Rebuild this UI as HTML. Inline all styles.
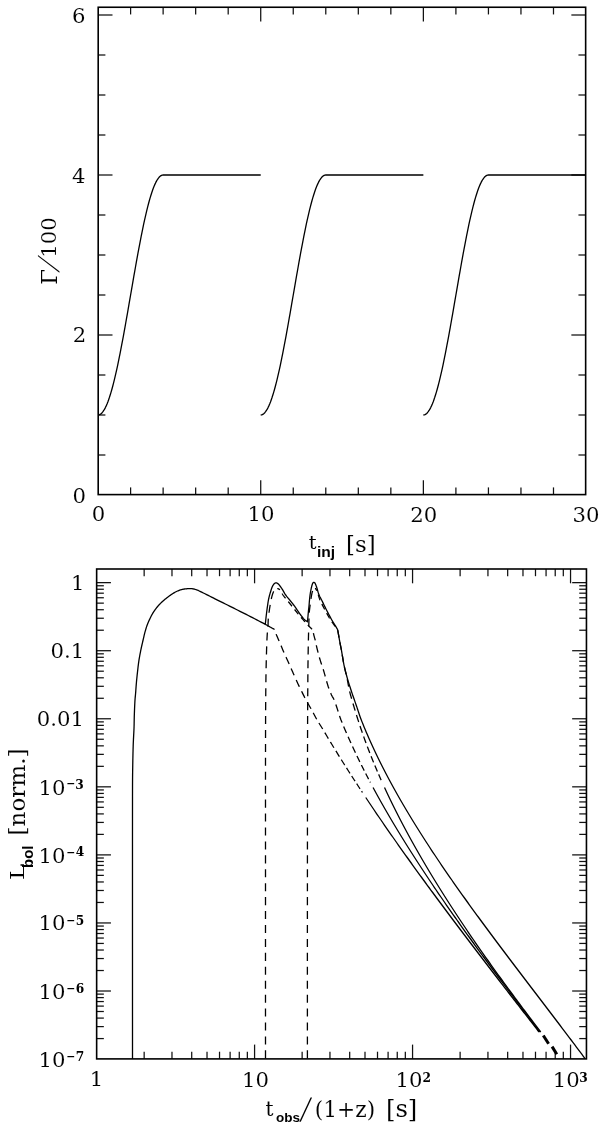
<!DOCTYPE html>
<html><head><meta charset="utf-8"><title>plot</title>
<style>
html,body{margin:0;padding:0;background:#fff;}
svg{display:block;will-change:transform;}
svg{font-family:'DejaVu Serif', 'Liberation Serif', serif;} text{fill:#000;} .er{stroke:#fff;stroke-width:0.08px;}
</style></head>
<body>
<svg width="600" height="1125" viewBox="0 0 600 1125">
<rect width="600" height="1125" fill="#fff"/>
<line x1="130.60" y1="494.60" x2="130.60" y2="487.40" stroke="#111" stroke-width="1.25"/>
<line x1="130.60" y1="7.25" x2="130.60" y2="14.45" stroke="#111" stroke-width="1.25"/>
<line x1="163.13" y1="494.60" x2="163.13" y2="487.40" stroke="#111" stroke-width="1.25"/>
<line x1="163.13" y1="7.25" x2="163.13" y2="14.45" stroke="#111" stroke-width="1.25"/>
<line x1="195.66" y1="494.60" x2="195.66" y2="487.40" stroke="#111" stroke-width="1.25"/>
<line x1="195.66" y1="7.25" x2="195.66" y2="14.45" stroke="#111" stroke-width="1.25"/>
<line x1="228.19" y1="494.60" x2="228.19" y2="487.40" stroke="#111" stroke-width="1.25"/>
<line x1="228.19" y1="7.25" x2="228.19" y2="14.45" stroke="#111" stroke-width="1.25"/>
<line x1="260.72" y1="494.60" x2="260.72" y2="480.30" stroke="#111" stroke-width="1.25"/>
<line x1="260.72" y1="7.25" x2="260.72" y2="21.55" stroke="#111" stroke-width="1.25"/>
<line x1="293.25" y1="494.60" x2="293.25" y2="487.40" stroke="#111" stroke-width="1.25"/>
<line x1="293.25" y1="7.25" x2="293.25" y2="14.45" stroke="#111" stroke-width="1.25"/>
<line x1="325.78" y1="494.60" x2="325.78" y2="487.40" stroke="#111" stroke-width="1.25"/>
<line x1="325.78" y1="7.25" x2="325.78" y2="14.45" stroke="#111" stroke-width="1.25"/>
<line x1="358.31" y1="494.60" x2="358.31" y2="487.40" stroke="#111" stroke-width="1.25"/>
<line x1="358.31" y1="7.25" x2="358.31" y2="14.45" stroke="#111" stroke-width="1.25"/>
<line x1="390.84" y1="494.60" x2="390.84" y2="487.40" stroke="#111" stroke-width="1.25"/>
<line x1="390.84" y1="7.25" x2="390.84" y2="14.45" stroke="#111" stroke-width="1.25"/>
<line x1="423.37" y1="494.60" x2="423.37" y2="480.30" stroke="#111" stroke-width="1.25"/>
<line x1="423.37" y1="7.25" x2="423.37" y2="21.55" stroke="#111" stroke-width="1.25"/>
<line x1="455.90" y1="494.60" x2="455.90" y2="487.40" stroke="#111" stroke-width="1.25"/>
<line x1="455.90" y1="7.25" x2="455.90" y2="14.45" stroke="#111" stroke-width="1.25"/>
<line x1="488.43" y1="494.60" x2="488.43" y2="487.40" stroke="#111" stroke-width="1.25"/>
<line x1="488.43" y1="7.25" x2="488.43" y2="14.45" stroke="#111" stroke-width="1.25"/>
<line x1="520.96" y1="494.60" x2="520.96" y2="487.40" stroke="#111" stroke-width="1.25"/>
<line x1="520.96" y1="7.25" x2="520.96" y2="14.45" stroke="#111" stroke-width="1.25"/>
<line x1="553.49" y1="494.60" x2="553.49" y2="487.40" stroke="#111" stroke-width="1.25"/>
<line x1="553.49" y1="7.25" x2="553.49" y2="14.45" stroke="#111" stroke-width="1.25"/>
<line x1="98.20" y1="455.00" x2="105.40" y2="455.00" stroke="#111" stroke-width="1.25"/>
<line x1="585.65" y1="455.00" x2="578.45" y2="455.00" stroke="#111" stroke-width="1.25"/>
<line x1="98.20" y1="415.00" x2="105.40" y2="415.00" stroke="#111" stroke-width="1.25"/>
<line x1="585.65" y1="415.00" x2="578.45" y2="415.00" stroke="#111" stroke-width="1.25"/>
<line x1="98.20" y1="375.00" x2="105.40" y2="375.00" stroke="#111" stroke-width="1.25"/>
<line x1="585.65" y1="375.00" x2="578.45" y2="375.00" stroke="#111" stroke-width="1.25"/>
<line x1="98.20" y1="335.00" x2="112.50" y2="335.00" stroke="#111" stroke-width="1.25"/>
<line x1="585.65" y1="335.00" x2="571.35" y2="335.00" stroke="#111" stroke-width="1.25"/>
<line x1="98.20" y1="295.00" x2="105.40" y2="295.00" stroke="#111" stroke-width="1.25"/>
<line x1="585.65" y1="295.00" x2="578.45" y2="295.00" stroke="#111" stroke-width="1.25"/>
<line x1="98.20" y1="255.00" x2="105.40" y2="255.00" stroke="#111" stroke-width="1.25"/>
<line x1="585.65" y1="255.00" x2="578.45" y2="255.00" stroke="#111" stroke-width="1.25"/>
<line x1="98.20" y1="215.00" x2="105.40" y2="215.00" stroke="#111" stroke-width="1.25"/>
<line x1="585.65" y1="215.00" x2="578.45" y2="215.00" stroke="#111" stroke-width="1.25"/>
<line x1="98.20" y1="175.00" x2="112.50" y2="175.00" stroke="#111" stroke-width="1.25"/>
<line x1="585.65" y1="175.00" x2="571.35" y2="175.00" stroke="#111" stroke-width="1.25"/>
<line x1="98.20" y1="135.00" x2="105.40" y2="135.00" stroke="#111" stroke-width="1.25"/>
<line x1="585.65" y1="135.00" x2="578.45" y2="135.00" stroke="#111" stroke-width="1.25"/>
<line x1="98.20" y1="95.00" x2="105.40" y2="95.00" stroke="#111" stroke-width="1.25"/>
<line x1="585.65" y1="95.00" x2="578.45" y2="95.00" stroke="#111" stroke-width="1.25"/>
<line x1="98.20" y1="55.00" x2="105.40" y2="55.00" stroke="#111" stroke-width="1.25"/>
<line x1="585.65" y1="55.00" x2="578.45" y2="55.00" stroke="#111" stroke-width="1.25"/>
<line x1="98.20" y1="15.00" x2="112.50" y2="15.00" stroke="#111" stroke-width="1.25"/>
<line x1="585.65" y1="15.00" x2="571.35" y2="15.00" stroke="#111" stroke-width="1.25"/>
<rect x="98.20" y="7.25" width="487.45" height="487.35" fill="none" stroke="#000" stroke-width="1.6"/>
<line x1="144.16" y1="1058.90" x2="144.16" y2="1051.70" stroke="#111" stroke-width="1.25"/>
<line x1="144.16" y1="569.00" x2="144.16" y2="576.20" stroke="#111" stroke-width="1.25"/>
<line x1="171.98" y1="1058.90" x2="171.98" y2="1051.70" stroke="#111" stroke-width="1.25"/>
<line x1="171.98" y1="569.00" x2="171.98" y2="576.20" stroke="#111" stroke-width="1.25"/>
<line x1="191.71" y1="1058.90" x2="191.71" y2="1051.70" stroke="#111" stroke-width="1.25"/>
<line x1="191.71" y1="569.00" x2="191.71" y2="576.20" stroke="#111" stroke-width="1.25"/>
<line x1="207.02" y1="1058.90" x2="207.02" y2="1051.70" stroke="#111" stroke-width="1.25"/>
<line x1="207.02" y1="569.00" x2="207.02" y2="576.20" stroke="#111" stroke-width="1.25"/>
<line x1="219.53" y1="1058.90" x2="219.53" y2="1051.70" stroke="#111" stroke-width="1.25"/>
<line x1="219.53" y1="569.00" x2="219.53" y2="576.20" stroke="#111" stroke-width="1.25"/>
<line x1="230.11" y1="1058.90" x2="230.11" y2="1051.70" stroke="#111" stroke-width="1.25"/>
<line x1="230.11" y1="569.00" x2="230.11" y2="576.20" stroke="#111" stroke-width="1.25"/>
<line x1="239.27" y1="1058.90" x2="239.27" y2="1051.70" stroke="#111" stroke-width="1.25"/>
<line x1="239.27" y1="569.00" x2="239.27" y2="576.20" stroke="#111" stroke-width="1.25"/>
<line x1="247.35" y1="1058.90" x2="247.35" y2="1051.70" stroke="#111" stroke-width="1.25"/>
<line x1="247.35" y1="569.00" x2="247.35" y2="576.20" stroke="#111" stroke-width="1.25"/>
<line x1="254.58" y1="1058.90" x2="254.58" y2="1044.60" stroke="#111" stroke-width="1.25"/>
<line x1="254.58" y1="569.00" x2="254.58" y2="583.30" stroke="#111" stroke-width="1.25"/>
<line x1="302.14" y1="1058.90" x2="302.14" y2="1051.70" stroke="#111" stroke-width="1.25"/>
<line x1="302.14" y1="569.00" x2="302.14" y2="576.20" stroke="#111" stroke-width="1.25"/>
<line x1="329.96" y1="1058.90" x2="329.96" y2="1051.70" stroke="#111" stroke-width="1.25"/>
<line x1="329.96" y1="569.00" x2="329.96" y2="576.20" stroke="#111" stroke-width="1.25"/>
<line x1="349.69" y1="1058.90" x2="349.69" y2="1051.70" stroke="#111" stroke-width="1.25"/>
<line x1="349.69" y1="569.00" x2="349.69" y2="576.20" stroke="#111" stroke-width="1.25"/>
<line x1="365.00" y1="1058.90" x2="365.00" y2="1051.70" stroke="#111" stroke-width="1.25"/>
<line x1="365.00" y1="569.00" x2="365.00" y2="576.20" stroke="#111" stroke-width="1.25"/>
<line x1="377.51" y1="1058.90" x2="377.51" y2="1051.70" stroke="#111" stroke-width="1.25"/>
<line x1="377.51" y1="569.00" x2="377.51" y2="576.20" stroke="#111" stroke-width="1.25"/>
<line x1="388.09" y1="1058.90" x2="388.09" y2="1051.70" stroke="#111" stroke-width="1.25"/>
<line x1="388.09" y1="569.00" x2="388.09" y2="576.20" stroke="#111" stroke-width="1.25"/>
<line x1="397.25" y1="1058.90" x2="397.25" y2="1051.70" stroke="#111" stroke-width="1.25"/>
<line x1="397.25" y1="569.00" x2="397.25" y2="576.20" stroke="#111" stroke-width="1.25"/>
<line x1="405.33" y1="1058.90" x2="405.33" y2="1051.70" stroke="#111" stroke-width="1.25"/>
<line x1="405.33" y1="569.00" x2="405.33" y2="576.20" stroke="#111" stroke-width="1.25"/>
<line x1="412.56" y1="1058.90" x2="412.56" y2="1044.60" stroke="#111" stroke-width="1.25"/>
<line x1="412.56" y1="569.00" x2="412.56" y2="583.30" stroke="#111" stroke-width="1.25"/>
<line x1="460.12" y1="1058.90" x2="460.12" y2="1051.70" stroke="#111" stroke-width="1.25"/>
<line x1="460.12" y1="569.00" x2="460.12" y2="576.20" stroke="#111" stroke-width="1.25"/>
<line x1="487.94" y1="1058.90" x2="487.94" y2="1051.70" stroke="#111" stroke-width="1.25"/>
<line x1="487.94" y1="569.00" x2="487.94" y2="576.20" stroke="#111" stroke-width="1.25"/>
<line x1="507.67" y1="1058.90" x2="507.67" y2="1051.70" stroke="#111" stroke-width="1.25"/>
<line x1="507.67" y1="569.00" x2="507.67" y2="576.20" stroke="#111" stroke-width="1.25"/>
<line x1="522.98" y1="1058.90" x2="522.98" y2="1051.70" stroke="#111" stroke-width="1.25"/>
<line x1="522.98" y1="569.00" x2="522.98" y2="576.20" stroke="#111" stroke-width="1.25"/>
<line x1="535.49" y1="1058.90" x2="535.49" y2="1051.70" stroke="#111" stroke-width="1.25"/>
<line x1="535.49" y1="569.00" x2="535.49" y2="576.20" stroke="#111" stroke-width="1.25"/>
<line x1="546.07" y1="1058.90" x2="546.07" y2="1051.70" stroke="#111" stroke-width="1.25"/>
<line x1="546.07" y1="569.00" x2="546.07" y2="576.20" stroke="#111" stroke-width="1.25"/>
<line x1="555.23" y1="1058.90" x2="555.23" y2="1051.70" stroke="#111" stroke-width="1.25"/>
<line x1="555.23" y1="569.00" x2="555.23" y2="576.20" stroke="#111" stroke-width="1.25"/>
<line x1="563.31" y1="1058.90" x2="563.31" y2="1051.70" stroke="#111" stroke-width="1.25"/>
<line x1="563.31" y1="569.00" x2="563.31" y2="576.20" stroke="#111" stroke-width="1.25"/>
<line x1="570.54" y1="1058.90" x2="570.54" y2="1044.60" stroke="#111" stroke-width="1.25"/>
<line x1="570.54" y1="569.00" x2="570.54" y2="583.30" stroke="#111" stroke-width="1.25"/>
<line x1="96.65" y1="1038.58" x2="103.85" y2="1038.58" stroke="#111" stroke-width="1.25"/>
<line x1="586.45" y1="1038.58" x2="579.25" y2="1038.58" stroke="#111" stroke-width="1.25"/>
<line x1="96.65" y1="1026.60" x2="103.85" y2="1026.60" stroke="#111" stroke-width="1.25"/>
<line x1="586.45" y1="1026.60" x2="579.25" y2="1026.60" stroke="#111" stroke-width="1.25"/>
<line x1="96.65" y1="1018.09" x2="103.85" y2="1018.09" stroke="#111" stroke-width="1.25"/>
<line x1="586.45" y1="1018.09" x2="579.25" y2="1018.09" stroke="#111" stroke-width="1.25"/>
<line x1="96.65" y1="1011.50" x2="103.85" y2="1011.50" stroke="#111" stroke-width="1.25"/>
<line x1="586.45" y1="1011.50" x2="579.25" y2="1011.50" stroke="#111" stroke-width="1.25"/>
<line x1="96.65" y1="1006.11" x2="103.85" y2="1006.11" stroke="#111" stroke-width="1.25"/>
<line x1="586.45" y1="1006.11" x2="579.25" y2="1006.11" stroke="#111" stroke-width="1.25"/>
<line x1="96.65" y1="1001.55" x2="103.85" y2="1001.55" stroke="#111" stroke-width="1.25"/>
<line x1="586.45" y1="1001.55" x2="579.25" y2="1001.55" stroke="#111" stroke-width="1.25"/>
<line x1="96.65" y1="997.61" x2="103.85" y2="997.61" stroke="#111" stroke-width="1.25"/>
<line x1="586.45" y1="997.61" x2="579.25" y2="997.61" stroke="#111" stroke-width="1.25"/>
<line x1="96.65" y1="994.12" x2="103.85" y2="994.12" stroke="#111" stroke-width="1.25"/>
<line x1="586.45" y1="994.12" x2="579.25" y2="994.12" stroke="#111" stroke-width="1.25"/>
<line x1="96.65" y1="991.01" x2="110.95" y2="991.01" stroke="#111" stroke-width="1.25"/>
<line x1="586.45" y1="991.01" x2="572.15" y2="991.01" stroke="#111" stroke-width="1.25"/>
<line x1="96.65" y1="970.52" x2="103.85" y2="970.52" stroke="#111" stroke-width="1.25"/>
<line x1="586.45" y1="970.52" x2="579.25" y2="970.52" stroke="#111" stroke-width="1.25"/>
<line x1="96.65" y1="958.54" x2="103.85" y2="958.54" stroke="#111" stroke-width="1.25"/>
<line x1="586.45" y1="958.54" x2="579.25" y2="958.54" stroke="#111" stroke-width="1.25"/>
<line x1="96.65" y1="950.03" x2="103.85" y2="950.03" stroke="#111" stroke-width="1.25"/>
<line x1="586.45" y1="950.03" x2="579.25" y2="950.03" stroke="#111" stroke-width="1.25"/>
<line x1="96.65" y1="943.44" x2="103.85" y2="943.44" stroke="#111" stroke-width="1.25"/>
<line x1="586.45" y1="943.44" x2="579.25" y2="943.44" stroke="#111" stroke-width="1.25"/>
<line x1="96.65" y1="938.05" x2="103.85" y2="938.05" stroke="#111" stroke-width="1.25"/>
<line x1="586.45" y1="938.05" x2="579.25" y2="938.05" stroke="#111" stroke-width="1.25"/>
<line x1="96.65" y1="933.49" x2="103.85" y2="933.49" stroke="#111" stroke-width="1.25"/>
<line x1="586.45" y1="933.49" x2="579.25" y2="933.49" stroke="#111" stroke-width="1.25"/>
<line x1="96.65" y1="929.55" x2="103.85" y2="929.55" stroke="#111" stroke-width="1.25"/>
<line x1="586.45" y1="929.55" x2="579.25" y2="929.55" stroke="#111" stroke-width="1.25"/>
<line x1="96.65" y1="926.06" x2="103.85" y2="926.06" stroke="#111" stroke-width="1.25"/>
<line x1="586.45" y1="926.06" x2="579.25" y2="926.06" stroke="#111" stroke-width="1.25"/>
<line x1="96.65" y1="922.95" x2="110.95" y2="922.95" stroke="#111" stroke-width="1.25"/>
<line x1="586.45" y1="922.95" x2="572.15" y2="922.95" stroke="#111" stroke-width="1.25"/>
<line x1="96.65" y1="902.46" x2="103.85" y2="902.46" stroke="#111" stroke-width="1.25"/>
<line x1="586.45" y1="902.46" x2="579.25" y2="902.46" stroke="#111" stroke-width="1.25"/>
<line x1="96.65" y1="890.48" x2="103.85" y2="890.48" stroke="#111" stroke-width="1.25"/>
<line x1="586.45" y1="890.48" x2="579.25" y2="890.48" stroke="#111" stroke-width="1.25"/>
<line x1="96.65" y1="881.97" x2="103.85" y2="881.97" stroke="#111" stroke-width="1.25"/>
<line x1="586.45" y1="881.97" x2="579.25" y2="881.97" stroke="#111" stroke-width="1.25"/>
<line x1="96.65" y1="875.38" x2="103.85" y2="875.38" stroke="#111" stroke-width="1.25"/>
<line x1="586.45" y1="875.38" x2="579.25" y2="875.38" stroke="#111" stroke-width="1.25"/>
<line x1="96.65" y1="869.99" x2="103.85" y2="869.99" stroke="#111" stroke-width="1.25"/>
<line x1="586.45" y1="869.99" x2="579.25" y2="869.99" stroke="#111" stroke-width="1.25"/>
<line x1="96.65" y1="865.43" x2="103.85" y2="865.43" stroke="#111" stroke-width="1.25"/>
<line x1="586.45" y1="865.43" x2="579.25" y2="865.43" stroke="#111" stroke-width="1.25"/>
<line x1="96.65" y1="861.49" x2="103.85" y2="861.49" stroke="#111" stroke-width="1.25"/>
<line x1="586.45" y1="861.49" x2="579.25" y2="861.49" stroke="#111" stroke-width="1.25"/>
<line x1="96.65" y1="858.00" x2="103.85" y2="858.00" stroke="#111" stroke-width="1.25"/>
<line x1="586.45" y1="858.00" x2="579.25" y2="858.00" stroke="#111" stroke-width="1.25"/>
<line x1="96.65" y1="854.89" x2="110.95" y2="854.89" stroke="#111" stroke-width="1.25"/>
<line x1="586.45" y1="854.89" x2="572.15" y2="854.89" stroke="#111" stroke-width="1.25"/>
<line x1="96.65" y1="834.40" x2="103.85" y2="834.40" stroke="#111" stroke-width="1.25"/>
<line x1="586.45" y1="834.40" x2="579.25" y2="834.40" stroke="#111" stroke-width="1.25"/>
<line x1="96.65" y1="822.42" x2="103.85" y2="822.42" stroke="#111" stroke-width="1.25"/>
<line x1="586.45" y1="822.42" x2="579.25" y2="822.42" stroke="#111" stroke-width="1.25"/>
<line x1="96.65" y1="813.91" x2="103.85" y2="813.91" stroke="#111" stroke-width="1.25"/>
<line x1="586.45" y1="813.91" x2="579.25" y2="813.91" stroke="#111" stroke-width="1.25"/>
<line x1="96.65" y1="807.32" x2="103.85" y2="807.32" stroke="#111" stroke-width="1.25"/>
<line x1="586.45" y1="807.32" x2="579.25" y2="807.32" stroke="#111" stroke-width="1.25"/>
<line x1="96.65" y1="801.93" x2="103.85" y2="801.93" stroke="#111" stroke-width="1.25"/>
<line x1="586.45" y1="801.93" x2="579.25" y2="801.93" stroke="#111" stroke-width="1.25"/>
<line x1="96.65" y1="797.37" x2="103.85" y2="797.37" stroke="#111" stroke-width="1.25"/>
<line x1="586.45" y1="797.37" x2="579.25" y2="797.37" stroke="#111" stroke-width="1.25"/>
<line x1="96.65" y1="793.43" x2="103.85" y2="793.43" stroke="#111" stroke-width="1.25"/>
<line x1="586.45" y1="793.43" x2="579.25" y2="793.43" stroke="#111" stroke-width="1.25"/>
<line x1="96.65" y1="789.94" x2="103.85" y2="789.94" stroke="#111" stroke-width="1.25"/>
<line x1="586.45" y1="789.94" x2="579.25" y2="789.94" stroke="#111" stroke-width="1.25"/>
<line x1="96.65" y1="786.83" x2="110.95" y2="786.83" stroke="#111" stroke-width="1.25"/>
<line x1="586.45" y1="786.83" x2="572.15" y2="786.83" stroke="#111" stroke-width="1.25"/>
<line x1="96.65" y1="766.34" x2="103.85" y2="766.34" stroke="#111" stroke-width="1.25"/>
<line x1="586.45" y1="766.34" x2="579.25" y2="766.34" stroke="#111" stroke-width="1.25"/>
<line x1="96.65" y1="754.36" x2="103.85" y2="754.36" stroke="#111" stroke-width="1.25"/>
<line x1="586.45" y1="754.36" x2="579.25" y2="754.36" stroke="#111" stroke-width="1.25"/>
<line x1="96.65" y1="745.85" x2="103.85" y2="745.85" stroke="#111" stroke-width="1.25"/>
<line x1="586.45" y1="745.85" x2="579.25" y2="745.85" stroke="#111" stroke-width="1.25"/>
<line x1="96.65" y1="739.26" x2="103.85" y2="739.26" stroke="#111" stroke-width="1.25"/>
<line x1="586.45" y1="739.26" x2="579.25" y2="739.26" stroke="#111" stroke-width="1.25"/>
<line x1="96.65" y1="733.87" x2="103.85" y2="733.87" stroke="#111" stroke-width="1.25"/>
<line x1="586.45" y1="733.87" x2="579.25" y2="733.87" stroke="#111" stroke-width="1.25"/>
<line x1="96.65" y1="729.31" x2="103.85" y2="729.31" stroke="#111" stroke-width="1.25"/>
<line x1="586.45" y1="729.31" x2="579.25" y2="729.31" stroke="#111" stroke-width="1.25"/>
<line x1="96.65" y1="725.37" x2="103.85" y2="725.37" stroke="#111" stroke-width="1.25"/>
<line x1="586.45" y1="725.37" x2="579.25" y2="725.37" stroke="#111" stroke-width="1.25"/>
<line x1="96.65" y1="721.88" x2="103.85" y2="721.88" stroke="#111" stroke-width="1.25"/>
<line x1="586.45" y1="721.88" x2="579.25" y2="721.88" stroke="#111" stroke-width="1.25"/>
<line x1="96.65" y1="718.77" x2="110.95" y2="718.77" stroke="#111" stroke-width="1.25"/>
<line x1="586.45" y1="718.77" x2="572.15" y2="718.77" stroke="#111" stroke-width="1.25"/>
<line x1="96.65" y1="698.28" x2="103.85" y2="698.28" stroke="#111" stroke-width="1.25"/>
<line x1="586.45" y1="698.28" x2="579.25" y2="698.28" stroke="#111" stroke-width="1.25"/>
<line x1="96.65" y1="686.30" x2="103.85" y2="686.30" stroke="#111" stroke-width="1.25"/>
<line x1="586.45" y1="686.30" x2="579.25" y2="686.30" stroke="#111" stroke-width="1.25"/>
<line x1="96.65" y1="677.79" x2="103.85" y2="677.79" stroke="#111" stroke-width="1.25"/>
<line x1="586.45" y1="677.79" x2="579.25" y2="677.79" stroke="#111" stroke-width="1.25"/>
<line x1="96.65" y1="671.20" x2="103.85" y2="671.20" stroke="#111" stroke-width="1.25"/>
<line x1="586.45" y1="671.20" x2="579.25" y2="671.20" stroke="#111" stroke-width="1.25"/>
<line x1="96.65" y1="665.81" x2="103.85" y2="665.81" stroke="#111" stroke-width="1.25"/>
<line x1="586.45" y1="665.81" x2="579.25" y2="665.81" stroke="#111" stroke-width="1.25"/>
<line x1="96.65" y1="661.25" x2="103.85" y2="661.25" stroke="#111" stroke-width="1.25"/>
<line x1="586.45" y1="661.25" x2="579.25" y2="661.25" stroke="#111" stroke-width="1.25"/>
<line x1="96.65" y1="657.31" x2="103.85" y2="657.31" stroke="#111" stroke-width="1.25"/>
<line x1="586.45" y1="657.31" x2="579.25" y2="657.31" stroke="#111" stroke-width="1.25"/>
<line x1="96.65" y1="653.82" x2="103.85" y2="653.82" stroke="#111" stroke-width="1.25"/>
<line x1="586.45" y1="653.82" x2="579.25" y2="653.82" stroke="#111" stroke-width="1.25"/>
<line x1="96.65" y1="650.71" x2="110.95" y2="650.71" stroke="#111" stroke-width="1.25"/>
<line x1="586.45" y1="650.71" x2="572.15" y2="650.71" stroke="#111" stroke-width="1.25"/>
<line x1="96.65" y1="630.22" x2="103.85" y2="630.22" stroke="#111" stroke-width="1.25"/>
<line x1="586.45" y1="630.22" x2="579.25" y2="630.22" stroke="#111" stroke-width="1.25"/>
<line x1="96.65" y1="618.24" x2="103.85" y2="618.24" stroke="#111" stroke-width="1.25"/>
<line x1="586.45" y1="618.24" x2="579.25" y2="618.24" stroke="#111" stroke-width="1.25"/>
<line x1="96.65" y1="609.73" x2="103.85" y2="609.73" stroke="#111" stroke-width="1.25"/>
<line x1="586.45" y1="609.73" x2="579.25" y2="609.73" stroke="#111" stroke-width="1.25"/>
<line x1="96.65" y1="603.14" x2="103.85" y2="603.14" stroke="#111" stroke-width="1.25"/>
<line x1="586.45" y1="603.14" x2="579.25" y2="603.14" stroke="#111" stroke-width="1.25"/>
<line x1="96.65" y1="597.75" x2="103.85" y2="597.75" stroke="#111" stroke-width="1.25"/>
<line x1="586.45" y1="597.75" x2="579.25" y2="597.75" stroke="#111" stroke-width="1.25"/>
<line x1="96.65" y1="593.19" x2="103.85" y2="593.19" stroke="#111" stroke-width="1.25"/>
<line x1="586.45" y1="593.19" x2="579.25" y2="593.19" stroke="#111" stroke-width="1.25"/>
<line x1="96.65" y1="589.25" x2="103.85" y2="589.25" stroke="#111" stroke-width="1.25"/>
<line x1="586.45" y1="589.25" x2="579.25" y2="589.25" stroke="#111" stroke-width="1.25"/>
<line x1="96.65" y1="585.76" x2="103.85" y2="585.76" stroke="#111" stroke-width="1.25"/>
<line x1="586.45" y1="585.76" x2="579.25" y2="585.76" stroke="#111" stroke-width="1.25"/>
<line x1="96.65" y1="582.65" x2="110.95" y2="582.65" stroke="#111" stroke-width="1.25"/>
<line x1="586.45" y1="582.65" x2="572.15" y2="582.65" stroke="#111" stroke-width="1.25"/>
<rect x="96.65" y="569.00" width="489.80" height="489.90" fill="none" stroke="#000" stroke-width="1.6"/>
<path d="M98.07,415.00 L98.88,414.91 L99.70,414.63 L100.51,414.17 L101.32,413.52 L102.14,412.69 L102.95,411.68 L103.76,410.49 L104.58,409.13 L105.39,407.58 L106.20,405.87 L107.02,403.98 L107.83,401.92 L108.64,399.70 L109.46,397.32 L110.27,394.78 L111.08,392.08 L111.90,389.24 L112.71,386.25 L113.52,383.12 L114.33,379.85 L115.15,376.46 L115.96,372.93 L116.77,369.29 L117.59,365.53 L118.40,361.67 L119.21,357.70 L120.03,353.63 L120.84,349.48 L121.65,345.24 L122.47,340.92 L123.28,336.53 L124.09,332.08 L124.91,327.57 L125.72,323.01 L126.53,318.41 L127.35,313.77 L128.16,309.10 L128.97,304.42 L129.79,299.71 L130.60,295.00 L131.41,290.29 L132.23,285.58 L133.04,280.90 L133.85,276.23 L134.67,271.59 L135.48,266.99 L136.29,262.43 L137.11,257.92 L137.92,253.47 L138.73,249.08 L139.55,244.76 L140.36,240.52 L141.17,236.37 L141.99,232.30 L142.80,228.33 L143.61,224.47 L144.43,220.71 L145.24,217.07 L146.05,213.54 L146.87,210.15 L147.68,206.88 L148.49,203.75 L149.30,200.76 L150.12,197.92 L150.93,195.22 L151.74,192.68 L152.56,190.30 L153.37,188.08 L154.18,186.02 L155.00,184.13 L155.81,182.42 L156.62,180.87 L157.44,179.51 L158.25,178.32 L159.06,177.31 L159.88,176.48 L160.69,175.83 L161.50,175.37 L162.32,175.09 L163.13,175.00 L163.94,175.00 L164.76,175.00 L165.57,175.00 L166.38,175.00 L167.20,175.00 L168.01,175.00 L168.82,175.00 L169.64,175.00 L170.45,175.00 L171.26,175.00 L172.08,175.00 L172.89,175.00 L173.70,175.00 L174.52,175.00 L175.33,175.00 L176.14,175.00 L176.96,175.00 L177.77,175.00 L178.58,175.00 L179.39,175.00 L180.21,175.00 L181.02,175.00 L181.83,175.00 L182.65,175.00 L183.46,175.00 L184.27,175.00 L185.09,175.00 L185.90,175.00 L186.71,175.00 L187.53,175.00 L188.34,175.00 L189.15,175.00 L189.97,175.00 L190.78,175.00 L191.59,175.00 L192.41,175.00 L193.22,175.00 L194.03,175.00 L194.85,175.00 L195.66,175.00 L196.47,175.00 L197.29,175.00 L198.10,175.00 L198.91,175.00 L199.73,175.00 L200.54,175.00 L201.35,175.00 L202.17,175.00 L202.98,175.00 L203.79,175.00 L204.61,175.00 L205.42,175.00 L206.23,175.00 L207.05,175.00 L207.86,175.00 L208.67,175.00 L209.49,175.00 L210.30,175.00 L211.11,175.00 L211.93,175.00 L212.74,175.00 L213.55,175.00 L214.36,175.00 L215.18,175.00 L215.99,175.00 L216.80,175.00 L217.62,175.00 L218.43,175.00 L219.24,175.00 L220.06,175.00 L220.87,175.00 L221.68,175.00 L222.50,175.00 L223.31,175.00 L224.12,175.00 L224.94,175.00 L225.75,175.00 L226.56,175.00 L227.38,175.00 L228.19,175.00 L229.00,175.00 L229.82,175.00 L230.63,175.00 L231.44,175.00 L232.26,175.00 L233.07,175.00 L233.88,175.00 L234.70,175.00 L235.51,175.00 L236.32,175.00 L237.14,175.00 L237.95,175.00 L238.76,175.00 L239.58,175.00 L240.39,175.00 L241.20,175.00 L242.02,175.00 L242.83,175.00 L243.64,175.00 L244.45,175.00 L245.27,175.00 L246.08,175.00 L246.89,175.00 L247.71,175.00 L248.52,175.00 L249.33,175.00 L250.15,175.00 L250.96,175.00 L251.77,175.00 L252.59,175.00 L253.40,175.00 L254.21,175.00 L255.03,175.00 L255.84,175.00 L256.65,175.00 L257.47,175.00 L258.28,175.00 L259.09,175.00 L259.91,175.00 L260.72,175.00" fill="none" stroke="#000" stroke-width="1.3" stroke-linejoin="round"/>
<path d="M260.72,415.00 L261.53,414.91 L262.35,414.63 L263.16,414.17 L263.97,413.52 L264.79,412.69 L265.60,411.68 L266.41,410.49 L267.23,409.13 L268.04,407.58 L268.85,405.87 L269.67,403.98 L270.48,401.92 L271.29,399.70 L272.11,397.32 L272.92,394.78 L273.73,392.08 L274.55,389.24 L275.36,386.25 L276.17,383.12 L276.99,379.85 L277.80,376.46 L278.61,372.93 L279.42,369.29 L280.24,365.53 L281.05,361.67 L281.86,357.70 L282.68,353.63 L283.49,349.48 L284.30,345.24 L285.12,340.92 L285.93,336.53 L286.74,332.08 L287.56,327.57 L288.37,323.01 L289.18,318.41 L290.00,313.77 L290.81,309.10 L291.62,304.42 L292.44,299.71 L293.25,295.00 L294.06,290.29 L294.88,285.58 L295.69,280.90 L296.50,276.23 L297.32,271.59 L298.13,266.99 L298.94,262.43 L299.76,257.92 L300.57,253.47 L301.38,249.08 L302.20,244.76 L303.01,240.52 L303.82,236.37 L304.64,232.30 L305.45,228.33 L306.26,224.47 L307.08,220.71 L307.89,217.07 L308.70,213.54 L309.51,210.15 L310.33,206.88 L311.14,203.75 L311.95,200.76 L312.77,197.92 L313.58,195.22 L314.39,192.68 L315.21,190.30 L316.02,188.08 L316.83,186.02 L317.65,184.13 L318.46,182.42 L319.27,180.87 L320.09,179.51 L320.90,178.32 L321.71,177.31 L322.53,176.48 L323.34,175.83 L324.15,175.37 L324.97,175.09 L325.78,175.00 L326.59,175.00 L327.41,175.00 L328.22,175.00 L329.03,175.00 L329.85,175.00 L330.66,175.00 L331.47,175.00 L332.29,175.00 L333.10,175.00 L333.91,175.00 L334.73,175.00 L335.54,175.00 L336.35,175.00 L337.17,175.00 L337.98,175.00 L338.79,175.00 L339.61,175.00 L340.42,175.00 L341.23,175.00 L342.05,175.00 L342.86,175.00 L343.67,175.00 L344.48,175.00 L345.30,175.00 L346.11,175.00 L346.92,175.00 L347.74,175.00 L348.55,175.00 L349.36,175.00 L350.18,175.00 L350.99,175.00 L351.80,175.00 L352.62,175.00 L353.43,175.00 L354.24,175.00 L355.06,175.00 L355.87,175.00 L356.68,175.00 L357.50,175.00 L358.31,175.00 L359.12,175.00 L359.94,175.00 L360.75,175.00 L361.56,175.00 L362.38,175.00 L363.19,175.00 L364.00,175.00 L364.82,175.00 L365.63,175.00 L366.44,175.00 L367.26,175.00 L368.07,175.00 L368.88,175.00 L369.70,175.00 L370.51,175.00 L371.32,175.00 L372.14,175.00 L372.95,175.00 L373.76,175.00 L374.57,175.00 L375.39,175.00 L376.20,175.00 L377.01,175.00 L377.83,175.00 L378.64,175.00 L379.45,175.00 L380.27,175.00 L381.08,175.00 L381.89,175.00 L382.71,175.00 L383.52,175.00 L384.33,175.00 L385.15,175.00 L385.96,175.00 L386.77,175.00 L387.59,175.00 L388.40,175.00 L389.21,175.00 L390.03,175.00 L390.84,175.00 L391.65,175.00 L392.47,175.00 L393.28,175.00 L394.09,175.00 L394.91,175.00 L395.72,175.00 L396.53,175.00 L397.35,175.00 L398.16,175.00 L398.97,175.00 L399.79,175.00 L400.60,175.00 L401.41,175.00 L402.23,175.00 L403.04,175.00 L403.85,175.00 L404.67,175.00 L405.48,175.00 L406.29,175.00 L407.11,175.00 L407.92,175.00 L408.73,175.00 L409.54,175.00 L410.36,175.00 L411.17,175.00 L411.98,175.00 L412.80,175.00 L413.61,175.00 L414.42,175.00 L415.24,175.00 L416.05,175.00 L416.86,175.00 L417.68,175.00 L418.49,175.00 L419.30,175.00 L420.12,175.00 L420.93,175.00 L421.74,175.00 L422.56,175.00 L423.37,175.00" fill="none" stroke="#000" stroke-width="1.3" stroke-linejoin="round"/>
<path d="M423.37,415.00 L424.18,414.91 L425.00,414.63 L425.81,414.17 L426.62,413.52 L427.44,412.69 L428.25,411.68 L429.06,410.49 L429.88,409.13 L430.69,407.58 L431.50,405.87 L432.32,403.98 L433.13,401.92 L433.94,399.70 L434.76,397.32 L435.57,394.78 L436.38,392.08 L437.20,389.24 L438.01,386.25 L438.82,383.12 L439.63,379.85 L440.45,376.46 L441.26,372.93 L442.07,369.29 L442.89,365.53 L443.70,361.67 L444.51,357.70 L445.33,353.63 L446.14,349.48 L446.95,345.24 L447.77,340.92 L448.58,336.53 L449.39,332.08 L450.21,327.57 L451.02,323.01 L451.83,318.41 L452.65,313.77 L453.46,309.10 L454.27,304.42 L455.09,299.71 L455.90,295.00 L456.71,290.29 L457.53,285.58 L458.34,280.90 L459.15,276.23 L459.97,271.59 L460.78,266.99 L461.59,262.43 L462.41,257.92 L463.22,253.47 L464.03,249.08 L464.85,244.76 L465.66,240.52 L466.47,236.37 L467.29,232.30 L468.10,228.33 L468.91,224.47 L469.73,220.71 L470.54,217.07 L471.35,213.54 L472.17,210.15 L472.98,206.88 L473.79,203.75 L474.60,200.76 L475.42,197.92 L476.23,195.22 L477.04,192.68 L477.86,190.30 L478.67,188.08 L479.48,186.02 L480.30,184.13 L481.11,182.42 L481.92,180.87 L482.74,179.51 L483.55,178.32 L484.36,177.31 L485.18,176.48 L485.99,175.83 L486.80,175.37 L487.62,175.09 L488.43,175.00 L489.24,175.00 L490.06,175.00 L490.87,175.00 L491.68,175.00 L492.50,175.00 L493.31,175.00 L494.12,175.00 L494.94,175.00 L495.75,175.00 L496.56,175.00 L497.38,175.00 L498.19,175.00 L499.00,175.00 L499.82,175.00 L500.63,175.00 L501.44,175.00 L502.26,175.00 L503.07,175.00 L503.88,175.00 L504.69,175.00 L505.51,175.00 L506.32,175.00 L507.13,175.00 L507.95,175.00 L508.76,175.00 L509.57,175.00 L510.39,175.00 L511.20,175.00 L512.01,175.00 L512.83,175.00 L513.64,175.00 L514.45,175.00 L515.27,175.00 L516.08,175.00 L516.89,175.00 L517.71,175.00 L518.52,175.00 L519.33,175.00 L520.15,175.00 L520.96,175.00 L521.77,175.00 L522.59,175.00 L523.40,175.00 L524.21,175.00 L525.03,175.00 L525.84,175.00 L526.65,175.00 L527.47,175.00 L528.28,175.00 L529.09,175.00 L529.91,175.00 L530.72,175.00 L531.53,175.00 L532.35,175.00 L533.16,175.00 L533.97,175.00 L534.79,175.00 L535.60,175.00 L536.41,175.00 L537.23,175.00 L538.04,175.00 L538.85,175.00 L539.66,175.00 L540.48,175.00 L541.29,175.00 L542.10,175.00 L542.92,175.00 L543.73,175.00 L544.54,175.00 L545.36,175.00 L546.17,175.00 L546.98,175.00 L547.80,175.00 L548.61,175.00 L549.42,175.00 L550.24,175.00 L551.05,175.00 L551.86,175.00 L552.68,175.00 L553.49,175.00 L554.30,175.00 L555.12,175.00 L555.93,175.00 L556.74,175.00 L557.56,175.00 L558.37,175.00 L559.18,175.00 L560.00,175.00 L560.81,175.00 L561.62,175.00 L562.44,175.00 L563.25,175.00 L564.06,175.00 L564.88,175.00 L565.69,175.00 L566.50,175.00 L567.32,175.00 L568.13,175.00 L568.94,175.00 L569.75,175.00 L570.57,175.00 L571.38,175.00 L572.19,175.00 L573.01,175.00 L573.82,175.00 L574.63,175.00 L575.45,175.00 L576.26,175.00 L577.07,175.00 L577.89,175.00 L578.70,175.00 L579.51,175.00 L580.33,175.00 L581.14,175.00 L581.95,175.00 L582.77,175.00 L583.58,175.00 L584.39,175.00 L585.21,175.00 L586.02,175.00" fill="none" stroke="#000" stroke-width="1.3" stroke-linejoin="round"/>
<path d="M132.50,1058.90 L132.50,1024.54 L132.49,987.32 L132.49,948.96 L132.48,911.16 L132.48,875.66 L132.48,844.15 L132.49,818.36 L132.50,800.00 L132.50,796.36 L132.51,793.22 L132.51,790.49 L132.52,788.08 L132.52,785.91 L132.53,783.90 L132.54,781.96 L132.55,780.00 L132.56,778.74 L132.57,777.60 L132.58,776.53 L132.59,775.51 L132.60,774.50 L132.62,773.47 L132.63,772.38 L132.65,771.20 L132.67,769.58 L132.70,767.87 L132.73,766.09 L132.76,764.26 L132.79,762.41 L132.82,760.55 L132.86,758.71 L132.90,756.90 L132.94,755.12 L132.98,753.35 L133.03,751.57 L133.07,749.80 L133.12,748.02 L133.18,746.25 L133.23,744.47 L133.30,742.70 L133.38,740.93 L133.46,739.15 L133.56,737.38 L133.65,735.60 L133.75,733.83 L133.84,732.05 L133.93,730.28 L134.00,728.50 L134.06,726.71 L134.11,724.93 L134.14,723.14 L134.18,721.35 L134.21,719.56 L134.25,717.77 L134.29,715.99 L134.35,714.20 L134.42,712.39 L134.49,710.52 L134.56,708.64 L134.64,706.77 L134.72,704.94 L134.81,703.18 L134.90,701.52 L135.00,700.00 L135.07,699.05 L135.14,698.19 L135.21,697.37 L135.29,696.59 L135.37,695.82 L135.44,695.02 L135.52,694.19 L135.60,693.30 L135.70,692.09 L135.79,690.82 L135.88,689.50 L135.98,688.15 L136.08,686.78 L136.18,685.41 L136.29,684.04 L136.40,682.70 L136.52,681.36 L136.65,680.03 L136.78,678.69 L136.92,677.35 L137.06,676.01 L137.20,674.68 L137.35,673.34 L137.50,672.00 L137.65,670.66 L137.80,669.32 L137.95,667.98 L138.10,666.64 L138.26,665.31 L138.43,663.97 L138.61,662.63 L138.80,661.30 L139.01,659.97 L139.22,658.64 L139.45,657.32 L139.68,655.99 L139.93,654.67 L140.18,653.35 L140.44,652.02 L140.70,650.70 L140.98,649.35 L141.27,647.99 L141.57,646.63 L141.88,645.26 L142.19,643.91 L142.50,642.58 L142.80,641.27 L143.10,640.00 L143.35,638.90 L143.60,637.83 L143.84,636.77 L144.09,635.72 L144.33,634.70 L144.58,633.68 L144.83,632.68 L145.10,631.70 L145.35,630.82 L145.59,629.96 L145.84,629.10 L146.10,628.26 L146.36,627.43 L146.63,626.61 L146.91,625.80 L147.20,625.00 L147.49,624.25 L147.79,623.50 L148.09,622.76 L148.41,622.04 L148.73,621.31 L149.05,620.60 L149.38,619.90 L149.70,619.20 L150.00,618.55 L150.30,617.91 L150.60,617.29 L150.90,616.66 L151.21,616.04 L151.52,615.43 L151.85,614.81 L152.20,614.20 L152.57,613.57 L152.96,612.93 L153.35,612.30 L153.76,611.68 L154.18,611.05 L154.61,610.43 L155.05,609.81 L155.50,609.20 L155.99,608.56 L156.49,607.92 L157.00,607.28 L157.52,606.64 L158.06,606.02 L158.60,605.40 L159.15,604.79 L159.70,604.20 L160.24,603.64 L160.79,603.09 L161.35,602.55 L161.92,602.02 L162.49,601.50 L163.06,600.99 L163.63,600.49 L164.20,600.00 L164.74,599.55 L165.27,599.10 L165.81,598.67 L166.35,598.24 L166.89,597.82 L167.43,597.41 L167.97,597.00 L168.50,596.60 L169.00,596.22 L169.50,595.85 L170.00,595.48 L170.50,595.12 L170.99,594.76 L171.49,594.42 L171.99,594.08 L172.50,593.75 L172.99,593.44 L173.48,593.14 L173.98,592.85 L174.47,592.56 L174.97,592.28 L175.48,592.01 L175.99,591.75 L176.50,591.50 L177.03,591.25 L177.56,591.02 L178.10,590.78 L178.65,590.56 L179.19,590.35 L179.73,590.15 L180.27,589.97 L180.80,589.80 L181.27,589.66 L181.74,589.54 L182.20,589.43 L182.66,589.33 L183.11,589.24 L183.57,589.15 L184.03,589.07 L184.50,589.00 L184.98,588.93 L185.46,588.87 L185.95,588.82 L186.43,588.78 L186.92,588.74 L187.39,588.70 L187.86,588.68 L188.30,588.65 L188.66,588.63 L189.01,588.61 L189.36,588.60 L189.69,588.59 L190.02,588.58 L190.35,588.58 L190.68,588.59 L191.00,588.60 L191.29,588.62 L191.58,588.64 L191.85,588.67 L192.13,588.70 L192.41,588.74 L192.69,588.78 L192.99,588.84 L193.30,588.90 L193.72,588.99 L194.16,589.10 L194.61,589.22 L195.08,589.36 L195.55,589.50 L196.03,589.66 L196.52,589.82 L197.00,590.00 L197.57,590.22 L198.14,590.47 L198.73,590.74 L199.32,591.02 L199.92,591.30 L200.51,591.59 L201.11,591.87 L201.70,592.15 L203.35,592.98 L204.99,593.79 L206.62,594.61 L208.26,595.43 L209.90,596.25 L211.57,597.08 L213.27,597.93 L215.00,598.80 L217.00,599.80 L219.04,600.82 L221.13,601.86 L223.24,602.91 L225.36,603.98 L227.48,605.04 L229.60,606.10 L231.70,607.15 L233.78,608.19 L235.85,609.23 L237.92,610.27 L239.99,611.30 L242.07,612.34 L244.14,613.39 L246.22,614.44 L248.30,615.50 L250.42,616.58 L252.54,617.68 L254.66,618.78 L256.79,619.88 L258.92,620.99 L261.05,622.09 L263.17,623.20 L265.30,624.30 L265.36,623.77 L265.41,623.25 L265.46,622.73 L265.52,622.21 L265.57,621.68 L265.63,621.14 L265.69,620.58 L265.75,620.00 L265.83,619.25 L265.92,618.48 L266.01,617.68 L266.10,616.86 L266.20,616.03 L266.30,615.19 L266.40,614.34 L266.50,613.50 L266.61,612.59 L266.73,611.66 L266.85,610.73 L266.97,609.78 L267.10,608.83 L267.23,607.89 L267.36,606.94 L267.50,606.00 L267.64,605.06 L267.78,604.11 L267.92,603.16 L268.07,602.21 L268.22,601.27 L268.39,600.33 L268.56,599.41 L268.75,598.50 L268.94,597.66 L269.14,596.83 L269.35,596.00 L269.57,595.19 L269.79,594.38 L270.02,593.58 L270.26,592.79 L270.50,592.00 L270.73,591.25 L270.96,590.49 L271.19,589.73 L271.43,588.99 L271.68,588.26 L271.93,587.56 L272.21,586.90 L272.50,586.30 L272.74,585.86 L272.98,585.42 L273.23,585.00 L273.49,584.61 L273.76,584.24 L274.03,583.91 L274.31,583.63 L274.60,583.40 L274.81,583.26 L275.03,583.15 L275.26,583.05 L275.49,582.98 L275.72,582.92 L275.95,582.89 L276.18,582.88 L276.40,582.90 L276.64,582.95 L276.88,583.04 L277.13,583.15 L277.37,583.29 L277.60,583.45 L277.84,583.63 L278.07,583.81 L278.30,584.00 L278.56,584.24 L278.82,584.51 L279.08,584.80 L279.33,585.11 L279.57,585.42 L279.81,585.75 L280.06,586.08 L280.30,586.40 L280.55,586.74 L280.80,587.07 L281.04,587.41 L281.28,587.76 L281.53,588.12 L281.77,588.49 L282.03,588.88 L282.30,589.30 L282.68,589.92 L283.08,590.60 L283.49,591.32 L283.91,592.06 L284.34,592.82 L284.78,593.57 L285.24,594.30 L285.70,595.00 L286.17,595.65 L286.65,596.29 L287.15,596.92 L287.66,597.54 L288.17,598.15 L288.68,598.76 L289.20,599.38 L289.70,600.00 L290.20,600.62 L290.71,601.25 L291.22,601.87 L291.73,602.49 L292.23,603.12 L292.73,603.74 L293.22,604.37 L293.70,605.00 L294.16,605.62 L294.60,606.24 L295.04,606.87 L295.48,607.49 L295.91,608.12 L296.33,608.75 L296.77,609.37 L297.20,610.00 L297.64,610.63 L298.07,611.26 L298.50,611.90 L298.93,612.53 L299.37,613.16 L299.81,613.79 L300.25,614.40 L300.70,615.00 L301.14,615.57 L301.58,616.14 L302.02,616.71 L302.47,617.27 L302.93,617.82 L303.38,618.34 L303.84,618.84 L304.30,619.30 L304.69,619.66 L305.09,620.00 L305.49,620.32 L305.89,620.62 L306.29,620.91 L306.70,621.20 L307.10,621.49 L307.50,621.80 L307.56,621.07 L307.62,620.35 L307.69,619.62 L307.75,618.89 L307.81,618.16 L307.87,617.44 L307.94,616.72 L308.00,616.00 L308.06,615.30 L308.12,614.60 L308.18,613.90 L308.25,613.21 L308.31,612.52 L308.37,611.83 L308.43,611.16 L308.50,610.50 L308.56,609.92 L308.62,609.36 L308.69,608.81 L308.75,608.26 L308.82,607.72 L308.88,607.16 L308.94,606.59 L309.00,606.00 L309.07,605.29 L309.13,604.56 L309.18,603.81 L309.24,603.05 L309.30,602.29 L309.36,601.52 L309.43,600.76 L309.50,600.00 L309.58,599.24 L309.66,598.46 L309.74,597.68 L309.83,596.90 L309.92,596.13 L310.01,595.39 L310.11,594.67 L310.20,594.00 L310.27,593.52 L310.34,593.06 L310.41,592.62 L310.49,592.20 L310.56,591.78 L310.64,591.36 L310.72,590.93 L310.80,590.50 L310.89,590.04 L310.98,589.57 L311.08,589.10 L311.18,588.63 L311.28,588.16 L311.38,587.70 L311.49,587.24 L311.60,586.80 L311.70,586.40 L311.80,586.00 L311.90,585.59 L312.01,585.20 L312.12,584.82 L312.23,584.45 L312.36,584.11 L312.50,583.80 L312.61,583.58 L312.72,583.35 L312.84,583.14 L312.96,582.93 L313.08,582.75 L313.21,582.59 L313.35,582.47 L313.50,582.40 L313.64,582.37 L313.78,582.37 L313.94,582.40 L314.10,582.44 L314.26,582.51 L314.41,582.59 L314.56,582.69 L314.70,582.80 L314.88,582.99 L315.05,583.23 L315.20,583.51 L315.35,583.83 L315.49,584.16 L315.62,584.50 L315.76,584.85 L315.90,585.20 L316.07,585.63 L316.24,586.08 L316.41,586.55 L316.57,587.04 L316.73,587.53 L316.89,588.03 L317.05,588.52 L317.20,589.00 L317.34,589.47 L317.48,589.95 L317.61,590.43 L317.74,590.91 L317.87,591.38 L318.00,591.86 L318.15,592.33 L318.30,592.80 L318.47,593.27 L318.64,593.74 L318.82,594.20 L319.01,594.67 L319.20,595.13 L319.39,595.59 L319.59,596.05 L319.80,596.50 L320.00,596.93 L320.21,597.34 L320.42,597.75 L320.63,598.15 L320.85,598.56 L321.08,599.00 L321.33,599.48 L321.60,600.00 L322.10,601.00 L322.65,602.14 L323.25,603.38 L323.88,604.68 L324.53,606.03 L325.19,607.38 L325.85,608.72 L326.50,610.00 L327.16,611.29 L327.86,612.63 L328.57,614.00 L329.28,615.35 L329.97,616.66 L330.63,617.89 L331.25,619.01 L331.80,620.00 L332.09,620.50 L332.35,620.95 L332.60,621.37 L332.84,621.76 L333.08,622.14 L333.31,622.51 L333.55,622.90 L333.80,623.30 L334.07,623.74 L334.35,624.18 L334.63,624.62 L334.92,625.07 L335.20,625.51 L335.48,625.95 L335.74,626.38 L336.00,626.80 L336.22,627.16 L336.42,627.52 L336.62,627.87 L336.82,628.22 L337.01,628.56 L337.21,628.91 L337.40,629.25 L337.60,629.60 L337.69,630.06 L337.77,630.50 L337.86,630.94 L337.94,631.39 L338.03,631.84 L338.12,632.31 L338.21,632.79 L338.30,633.30 L338.43,634.01 L338.56,634.78 L338.70,635.57 L338.84,636.40 L338.98,637.22 L339.13,638.04 L339.27,638.84 L339.40,639.60 L339.51,640.24 L339.63,640.86 L339.74,641.47 L339.85,642.07 L339.96,642.67 L340.07,643.27 L340.18,643.88 L340.30,644.50 L340.43,645.17 L340.56,645.83 L340.70,646.50 L340.84,647.17 L340.98,647.85 L341.12,648.55 L341.26,649.27 L341.40,650.00 L341.56,650.90 L341.72,651.83 L341.88,652.79 L342.04,653.76 L342.21,654.75 L342.37,655.74 L342.53,656.72 L342.70,657.70 L342.86,658.67 L343.02,659.62 L343.17,660.56 L343.32,661.50 L343.49,662.47 L343.67,663.47 L343.87,664.50 L344.10,665.60 L344.46,667.19 L344.86,668.89 L345.30,670.68 L345.77,672.52 L346.27,674.39 L346.77,676.26 L347.29,678.10 L347.80,679.90 L348.31,681.64 L348.85,683.37 L349.39,685.10 L349.95,686.82 L350.51,688.53 L351.08,690.24 L351.64,691.93 L352.20,693.60 L352.73,695.18 L353.27,696.73 L353.80,698.28 L354.34,699.81 L354.87,701.34 L355.41,702.88 L355.96,704.43 L356.50,706.00 L357.06,707.64 L357.60,709.27 L358.13,710.91 L358.67,712.55 L359.23,714.22 L359.82,715.93 L360.44,717.68 L361.12,719.50 L362.03,721.87 L363.02,724.35 L364.07,726.91 L365.16,729.52 L366.28,732.17 L367.42,734.81 L368.56,737.43 L369.69,740.00 L370.82,742.52 L371.96,745.03 L373.11,747.54 L374.27,750.04 L375.45,752.53 L376.64,755.02 L377.84,757.51 L379.06,760.00 L380.30,762.51 L381.56,765.02 L382.82,767.52 L384.11,770.02 L385.40,772.52 L386.70,775.02 L388.02,777.51 L389.35,780.00 L390.70,782.51 L392.06,785.02 L393.43,787.52 L394.82,790.02 L396.22,792.52 L397.62,795.02 L399.04,797.51 L400.47,800.00 L401.92,802.51 L403.38,805.02 L404.85,807.52 L406.33,810.02 L407.82,812.52 L409.33,815.01 L410.84,817.51 L412.35,820.00 L413.89,822.51 L415.44,825.01 L417.00,827.52 L418.57,830.02 L420.14,832.52 L421.73,835.01 L423.32,837.51 L424.92,840.00 L426.54,842.51 L428.17,845.01 L429.80,847.52 L431.45,850.02 L433.10,852.52 L434.76,855.01 L436.42,857.51 L438.09,860.00 L439.78,862.51 L441.48,865.01 L443.18,867.51 L444.89,870.01 L446.61,872.51 L448.33,875.01 L450.06,877.51 L451.80,880.00 L453.54,882.51 L455.30,885.01 L457.06,887.51 L458.83,890.01 L460.60,892.51 L462.38,895.01 L464.16,897.50 L465.95,900.00 L467.75,902.50 L469.55,905.01 L471.36,907.51 L473.18,910.01 L475.00,912.51 L476.82,915.01 L478.64,917.50 L480.47,920.00 L482.31,922.50 L484.16,925.01 L486.01,927.51 L487.86,930.01 L489.71,932.51 L491.57,935.01 L493.43,937.50 L495.30,940.00 L497.17,942.50 L499.04,945.00 L500.92,947.51 L502.80,950.01 L504.68,952.50 L506.57,955.00 L508.45,957.50 L510.34,960.00 L512.23,962.50 L514.12,965.00 L516.02,967.50 L517.92,970.00 L519.82,972.50 L521.72,975.00 L523.62,977.50 L525.52,980.00 L527.42,982.50 L529.33,985.00 L531.23,987.50 L533.14,990.00 L535.05,992.50 L536.96,995.00 L538.86,997.50 L540.77,1000.00 L542.67,1002.50 L544.58,1005.00 L546.48,1007.50 L548.39,1010.00 L550.29,1012.50 L552.20,1015.00 L554.10,1017.50 L556.00,1020.00 L557.90,1022.50 L559.81,1025.01 L561.71,1027.53 L563.62,1030.04 L565.52,1032.55 L567.41,1035.05 L569.28,1037.53 L571.14,1040.00 L572.91,1042.36 L574.67,1044.69 L576.41,1047.02 L578.15,1049.34 L579.88,1051.65 L581.61,1053.96 L583.34,1056.28 L585.08,1058.60" fill="none" stroke="#000" stroke-width="1.3" stroke-linejoin="round"/>
<path d="M265.30,624.30 L265.89,624.63 L266.47,624.96 L267.06,625.29 L267.65,625.63 L268.23,625.96 L268.82,626.29 L269.41,626.62 L270.00,626.95 L270.60,627.28 L271.20,627.61 L271.80,627.95 L272.40,628.28 L273.00,628.61 L273.60,628.94 L274.20,629.27 L274.56,629.47 M276.17,634.12 L276.20,634.20 L276.52,635.05 L276.88,635.92 L277.26,636.82 L277.67,637.75 L278.09,638.71 L278.53,639.68 L278.96,640.68 L279.11,641.02 M281.03,645.63 L281.06,645.70 L281.64,647.11 L282.23,648.53 L282.82,649.94 L283.41,651.34 L283.93,652.55 M286.00,657.10 L286.29,657.71 L286.87,658.95 L287.45,660.19 L288.03,661.44 L288.60,662.70 L289.14,663.91 M291.15,668.49 L291.54,669.39 L292.13,670.73 L292.71,672.07 L293.30,673.40 L293.88,674.72 L294.16,675.36 M296.18,679.93 L296.23,680.04 L296.80,681.31 L297.36,682.54 L297.90,683.70 L298.30,684.55 L298.69,685.35 L299.06,686.12 L299.36,686.72 M301.59,691.20 L302.15,692.34 L302.76,693.59 L303.39,694.87 L304.03,696.16 L304.68,697.46 L304.92,697.92 M307.28,702.33 L307.39,702.51 L308.10,703.76 L308.83,705.01 L309.55,706.25 L310.28,707.50 L311.00,708.75 L311.02,708.79 M313.22,712.83 L313.71,713.75 L314.37,715.01 L315.04,716.26 L315.71,717.51 L316.39,718.76 L316.67,719.25 M318.91,723.00 L319.38,723.76 L320.17,725.01 L320.96,726.25 L321.75,727.50 L322.53,728.75 L322.70,729.02 M324.84,732.59 L325.43,733.60 L326.12,734.79 L326.83,736.00 L327.56,737.26 L328.35,738.59 L328.35,738.59 M330.38,741.97 L330.51,742.18 L331.94,744.53 L333.45,747.01 L333.93,747.77 M335.88,750.96 L336.66,752.21 L338.29,754.85 L339.39,756.61 M341.26,759.62 L341.50,760.00 L343.08,762.51 L344.66,765.01 L344.73,765.12 M346.53,767.95 L347.84,770.01 L349.43,772.51 L349.95,773.32 M351.67,775.99 L352.64,777.51 L354.26,780.00 L355.05,781.22 M356.68,783.73 L357.52,785.01 L359.15,787.51 L360.03,788.84 M361.58,791.20 L362.45,792.51" fill="none" stroke="#000" stroke-width="1.3" stroke-linejoin="round" stroke-linecap="butt"/>
<path d="M365.76,797.50 L367.42,800.00 L369.09,802.50 L370.78,805.01 L372.46,807.51 L374.15,810.01 L375.85,812.51 L377.55,815.01 L379.25,817.50 L380.96,820.00 L382.68,822.50 L384.40,825.01 L386.13,827.51 L387.86,830.01 L389.60,832.51 L391.34,835.01 L393.09,837.50 L394.84,840.00 L396.60,842.50 L398.36,845.01 L400.13,847.51 L401.90,850.01 L403.68,852.51 L405.46,855.01 L407.24,857.50 L409.03,860.00 L410.82,862.50 L412.62,865.01 L414.43,867.51 L416.23,870.01 L418.04,872.51 L419.86,875.01 L421.67,877.50 L423.49,880.00 L425.32,882.50 L427.15,885.01 L428.99,887.51 L430.82,890.01 L432.67,892.51 L434.51,895.00 L436.35,897.50 L438.20,900.00 L440.06,902.50 L441.92,905.00 L443.78,907.51 L445.64,910.01 L447.51,912.51 L449.38,915.00 L451.25,917.50 L453.12,920.00 L455.00,922.50 L456.88,925.00 L458.77,927.50 L460.65,930.00 L462.54,932.50 L464.43,935.00 L466.32,937.50 L468.22,940.00 L470.12,942.50 L472.02,945.00 L473.92,947.50 L475.83,950.00 L477.73,952.50 L479.64,955.00 L481.55,957.50 L483.46,960.00 L485.37,962.50 L487.29,965.00 L489.21,967.50 L491.12,970.00 L493.04,972.50 L494.96,975.00 L496.89,977.50 L498.81,980.00 L500.77,982.55 L502.78,985.16 L504.82,987.80 L506.85,990.43 L508.83,993.00 L510.75,995.48 L512.56,997.83 L514.24,1000.00 L515.33,1001.41 L516.36,1002.74 L517.33,1004.00 L518.27,1005.21 L519.19,1006.40 L520.10,1007.58 L521.02,1008.77 L521.97,1010.00 L522.93,1011.24 L523.89,1012.48 L524.84,1013.71 L525.80,1014.94 L526.76,1016.18 L527.72,1017.44 L528.71,1018.71 L529.71,1020.00 L530.83,1021.45 L531.97,1022.92 L533.13,1024.42 L534.30,1025.93 L535.48,1027.45 L536.66,1028.97 L537.83,1030.49 L539.00,1032.00" fill="none" stroke="#000" stroke-width="1.3" stroke-linejoin="round" stroke-linecap="butt"/>
<path d="M265.50,1058.40 L265.50,1050.35 M265.50,1044.47 L265.50,1038.73 L265.50,1036.42 M265.50,1030.54 L265.50,1022.49 M265.50,1016.61 L265.49,1008.56 M265.49,1002.68 L265.49,999.81 L265.49,994.63 M265.49,988.75 L265.49,980.70 M265.49,974.82 L265.49,966.77 M265.49,960.89 L265.49,960.75 L265.49,952.84 M265.49,946.96 L265.49,940.90 L265.49,938.91 M265.49,933.03 L265.49,924.98 M265.49,919.10 L265.50,911.05 M265.50,905.17 L265.50,900.00 L265.50,897.12 M265.50,891.24 L265.50,883.19 M265.50,877.31 L265.50,875.07 L265.50,869.26 M265.50,863.38 L265.50,855.33 M265.50,849.45 L265.50,848.06 L265.50,841.40 M265.49,835.52 L265.49,827.47 M265.49,821.59 L265.49,819.99 L265.49,813.54 M265.49,807.66 L265.49,799.61 M265.49,793.73 L265.49,791.91 L265.49,785.68 M265.49,779.80 L265.50,771.75 M265.50,765.87 L265.50,764.83 L265.51,757.82 M265.52,751.94 L265.53,743.89 M265.54,738.01 L265.56,729.96 M265.58,724.08 L265.60,717.85 L265.61,716.03 M265.64,710.15 L265.69,702.10 M265.73,696.22 L265.76,693.47 L265.81,688.17 M265.88,682.29 L265.94,677.50 L266.00,674.24 M266.11,668.36 L266.19,664.34 L266.29,660.32 M266.45,654.44 L266.49,653.04 L266.59,649.65 L266.69,646.39 M266.92,640.52 L266.93,640.23 L267.06,637.49 L267.20,635.00 L267.29,633.65 L267.39,632.48 M267.95,626.63 L268.00,626.00 L268.05,625.14 L268.08,624.32 L268.10,623.52 L268.11,622.74 L268.13,621.95 L268.16,621.16 L268.19,620.35 L268.25,619.50 L268.33,618.59 M269.02,612.75 L269.12,611.96 L269.25,611.00 L269.34,610.32 L269.43,609.68 L269.52,609.08 L269.60,608.49 L269.69,607.90 L269.79,607.30 L269.89,606.67 L270.00,606.00 L270.16,605.08 L270.20,604.79 M271.27,599.01 L271.29,598.92 L271.50,598.00 L271.67,597.30 L271.85,596.62 L272.02,595.96 L272.20,595.32 L272.39,594.70 L272.59,594.11 L272.79,593.54 L273.00,593.00 L273.17,592.60 L273.34,592.20 L273.51,591.82 L273.69,591.46 L273.74,591.37" fill="none" stroke="#000" stroke-width="1.3" stroke-linejoin="round" stroke-linecap="butt"/>
<path d="M277.27,588.58 L277.43,588.58 L277.60,588.60 L277.80,588.63 L278.00,588.69 L278.20,588.76 L278.40,588.84 L278.60,588.94 L278.81,589.05 L279.00,589.17 L279.20,589.30 L279.43,589.48 L279.67,589.67 L279.89,589.88 M282.14,593.40 L282.18,593.49 L282.43,594.00 L282.70,594.50 L283.00,595.00 L283.42,595.61 L283.88,596.22 L284.37,596.85 L284.89,597.48 L285.42,598.11 L285.58,598.29 M288.23,601.54 L288.50,601.88 L289.00,602.50 L289.50,603.12 L290.00,603.75 L290.50,604.38 L291.00,605.00 L291.50,605.62 L291.98,606.23 M294.60,609.51 L295.00,610.00 L295.50,610.63 L296.00,611.26 L296.51,611.90 L297.01,612.54 L297.51,613.17 L298.01,613.79 L298.34,614.20 M301.07,617.39 L301.21,617.55 L301.65,618.04 L302.08,618.52 L302.50,619.00 L302.89,619.44 L303.27,619.87 L303.64,620.30 L304.02,620.73 L304.39,621.15 L304.76,621.57 L305.04,621.89 M307.85,625.01 L308.00,625.18 L308.40,625.60 L308.90,626.12 L309.43,626.66 L309.98,627.21 L310.54,627.76 L311.11,628.32 L311.68,628.89 L312.07,629.28 M313.42,633.11 L313.45,633.27 L313.59,633.93 L313.74,634.61 L313.90,635.30 L314.10,636.11 L314.32,636.94 L314.56,637.80 L314.81,638.66 L315.05,639.52 L315.28,640.37 L315.28,640.37 M316.34,645.26 L316.40,645.61 L316.54,646.27 L316.70,647.00 L317.01,648.30 L317.37,649.76 L317.76,651.33 L318.08,652.55 M319.39,657.38 L319.55,657.95 L320.00,659.50 L320.42,660.87 L320.84,662.19 L321.27,663.48 L321.63,664.53 M323.21,669.28 L323.50,670.20 L324.06,672.08 L324.63,674.08 L325.20,676.18 L325.29,676.48 M326.62,681.30 L326.95,682.47 L327.53,684.41 L328.10,686.20 L328.53,687.45 L328.88,688.45 M330.67,693.12 L331.07,694.05 L331.50,695.00 L331.83,695.68 L332.16,696.28 L332.48,696.83 L332.81,697.37 L333.14,697.93 L333.48,698.53 L333.83,699.21 L334.10,699.78 M335.85,704.46 L336.53,706.51 L337.38,709.17 L338.13,711.53 M339.54,715.85 L340.08,717.42 L341.02,720.00 L342.01,722.51 L342.05,722.63 M343.69,726.61 L344.07,727.53 L345.14,730.03 L346.23,732.52 L346.48,733.09 M348.13,736.80 L348.44,737.51 L349.56,740.00 L350.69,742.51 L350.95,743.08 M352.55,746.58 L352.98,747.52 L354.15,750.02 L355.33,752.52 L355.40,752.67 M356.96,755.94 L357.71,757.51 L358.92,760.00 L359.83,761.85 M361.35,764.92 L361.39,765.01 L362.64,767.52 L363.91,770.02 L364.23,770.66 M365.70,773.53 L366.46,775.01 L367.76,777.51 L368.59,779.10 M370.01,781.80 L370.38,782.51" fill="none" stroke="#000" stroke-width="1.3" stroke-linejoin="round" stroke-linecap="butt"/>
<path d="M373.06,787.52 L374.41,790.02 L375.77,792.52 L377.14,795.01 L378.52,797.51 L379.91,800.00 L381.32,802.51 L382.74,805.01 L384.16,807.52 L385.60,810.02 L387.04,812.52 L388.50,815.01 L389.96,817.51 L391.43,820.00 L392.91,822.51 L394.41,825.01 L395.91,827.52 L397.42,830.02 L398.94,832.51 L400.47,835.01 L402.00,837.51 L403.55,840.00 L405.10,842.51 L406.67,845.01 L408.24,847.51 L409.82,850.01 L411.41,852.51 L413.01,855.01 L414.61,857.51 L416.21,860.00 L417.84,862.51 L419.47,865.01 L421.10,867.51 L422.75,870.01 L424.39,872.51 L426.05,875.01 L427.71,877.51 L429.38,880.00 L431.06,882.51 L432.74,885.01 L434.44,887.51 L436.13,890.01 L437.84,892.51 L439.55,895.01 L441.26,897.50 L442.98,900.00 L444.71,902.50 L446.44,905.01 L448.18,907.51 L449.93,910.01 L451.68,912.51 L453.44,915.01 L455.20,917.50 L456.96,920.00 L458.73,922.50 L460.51,925.01 L462.30,927.51 L464.08,930.01 L465.87,932.51 L467.67,935.01 L469.47,937.50 L471.27,940.00 L473.08,942.50 L474.89,945.01 L476.71,947.51 L478.53,950.01 L480.36,952.51 L482.19,955.01 L484.02,957.50 L485.85,960.00 L487.69,962.50 L489.53,965.00 L491.38,967.51 L493.23,970.01 L495.08,972.51 L496.93,975.00 L498.79,977.50 L500.64,980.00 L502.54,982.55 L504.49,985.16 L506.47,987.81 L508.43,990.43 L510.36,993.01 L512.21,995.48 L513.97,997.83 L515.60,1000.00 L516.66,1001.41 L517.66,1002.74 L518.60,1004.00 L519.52,1005.22 L520.41,1006.40 L521.30,1007.58 L522.20,1008.77 L523.12,1010.00 L524.06,1011.24 L524.99,1012.48 L525.91,1013.71 L526.84,1014.94 L527.78,1016.18 L528.72,1017.44 L529.68,1018.71 L530.66,1020.00 L531.75,1021.45 L532.86,1022.92 L534.00,1024.42 L535.14,1025.93 L536.29,1027.45 L537.44,1028.97 L538.58,1030.49 L539.72,1032.00" fill="none" stroke="#000" stroke-width="1.3" stroke-linejoin="round" stroke-linecap="butt"/>
<path d="M307.40,1058.40 L307.40,1050.35 M307.40,1044.47 L307.40,1038.73 L307.40,1036.42 M307.40,1030.54 L307.39,1022.49 M307.39,1016.61 L307.39,1008.56 M307.39,1002.68 L307.39,999.81 L307.39,994.63 M307.39,988.75 L307.38,980.70 M307.38,974.82 L307.38,966.77 M307.38,960.89 L307.38,960.75 L307.38,952.84 M307.38,946.96 L307.38,940.90 L307.38,938.91 M307.38,933.03 L307.39,924.98 M307.39,919.10 L307.39,911.05 M307.40,905.17 L307.40,900.00 L307.40,897.12 M307.41,891.24 L307.41,883.19 M307.41,877.31 L307.42,875.20 L307.42,869.26 M307.42,863.38 L307.43,855.33 M307.43,849.45 L307.43,848.51 L307.44,841.40 M307.44,835.52 L307.44,827.47 M307.45,821.59 L307.45,820.85 L307.45,813.54 M307.46,807.66 L307.47,799.61 M307.47,793.73 L307.47,793.12 L307.48,785.68 M307.49,779.80 L307.50,771.75 M307.51,765.87 L307.52,757.82 M307.53,751.94 L307.55,743.89 M307.56,738.01 L307.58,729.96 M307.60,724.08 L307.62,718.78 L307.63,716.03 M307.65,710.15 L307.69,702.10 M307.72,696.22 L307.75,692.04 L307.78,688.17 M307.82,682.29 L307.85,678.05 L307.89,674.24 M307.95,668.36 L307.97,666.03 L308.04,660.51 L308.04,660.31 M308.13,654.43 L308.20,650.00 L308.26,646.41 L308.26,646.38 M308.39,640.50 L308.41,639.64 L308.48,636.46 L308.56,633.40 L308.58,632.46 M308.75,626.58 L308.80,625.00 L308.86,623.14 L308.91,621.34 L308.96,619.60 L308.99,618.53 M309.25,612.66 L309.30,612.00 L309.37,611.14 L309.45,610.34 L309.54,609.58 L309.63,608.85 L309.72,608.15 L309.81,607.45 L309.91,606.73 L310.00,606.00 L310.09,605.25 L310.17,604.66 M310.97,598.84 L310.99,598.69 L311.09,598.05 L311.18,597.41 L311.28,596.78 L311.39,596.17 L311.49,595.57 L311.60,595.00 L311.69,594.54 L311.78,594.08 L311.87,593.64 L311.96,593.20 L312.05,592.78 L312.16,592.37 L312.27,591.98 L312.40,591.60 L312.52,591.29 L312.64,590.98 L312.64,590.98" fill="none" stroke="#000" stroke-width="1.3" stroke-linejoin="round" stroke-linecap="butt"/>
<path d="M314.93,588.48 L315.05,588.48 L315.17,588.50 L315.28,588.54 L315.39,588.58 L315.50,588.63 L315.60,588.70 L315.73,588.81 L315.85,588.96 L315.96,589.12 L316.07,589.31 L316.18,589.52 L316.28,589.74 L316.39,589.97 L316.50,590.20 L316.68,590.58 L316.72,590.67 M318.21,594.60 L318.23,594.67 L318.45,595.37 L318.67,596.09 L318.90,596.83 L319.13,597.59 L319.39,598.38 L319.68,599.18 L320.00,600.00 L320.12,600.28 M321.91,604.08 L322.30,604.86 L322.97,606.16 L323.65,607.45 L324.33,608.74 L324.68,609.40 M326.66,613.11 L327.10,613.92 L327.82,615.24 L328.53,616.52 L329.24,617.76 L329.59,618.34 M331.87,621.87 L331.98,622.03 L332.43,622.64 L332.87,623.23 L333.32,623.81 L333.76,624.40 L334.20,625.00 L334.63,625.59 L335.05,626.17 L335.44,626.69 M337.71,630.17 L337.77,630.50 L337.86,630.94 L337.94,631.39 L338.03,631.84 L338.12,632.31 L338.21,632.79 L338.30,633.30 L338.43,634.01 L338.56,634.78 L338.70,635.57 L338.84,636.40 L338.98,637.22 L339.04,637.55 M339.92,642.47 L339.96,642.67 L340.07,643.27 L340.18,643.88 L340.30,644.50 L340.43,645.17 L340.56,645.83 L340.70,646.50 L340.84,647.17 L340.98,647.85 L341.12,648.55 L341.26,649.27 L341.37,649.83 M342.21,654.76 L342.37,655.74 L342.53,656.72 L342.70,657.70 L342.87,658.67 L343.03,659.63 L343.18,660.58 L343.34,661.54 L343.45,662.15 M344.41,667.06 L344.75,668.51 L345.12,670.05 L345.50,671.63 L345.89,673.23 L346.16,674.35 M347.25,679.23 L347.32,679.56 L347.62,681.14 L347.91,682.73 L348.20,684.31 L348.49,685.88 L348.62,686.60 M349.66,691.49 L349.69,691.65 L350.00,692.86 L350.30,694.05 L350.62,695.22 L350.94,696.38 L351.26,697.52 L351.58,698.66 L351.60,698.74 M352.99,703.54 L353.12,703.96 L353.43,704.99 L353.74,706.04 L354.07,707.10 L354.40,708.20 L354.78,709.47 L355.14,710.66 M356.47,715.03 L356.80,716.10 L357.26,717.56 L357.75,719.10 L358.50,721.40 L358.68,721.93 M360.03,726.03 L360.18,726.48 L361.09,729.17 L362.03,731.91 L362.31,732.72 M363.65,736.56 L363.94,737.37 L364.88,740.00 L365.81,742.53 L366.00,743.04 M367.35,746.64 L367.69,747.55 L368.64,750.05 L369.61,752.54 L369.76,752.92 M371.09,756.29 L371.58,757.51 L372.59,760.00 L373.55,762.37 M374.86,765.52 L375.70,767.52 L376.76,770.02 L377.36,771.42 M378.63,774.37 L378.91,775.01 L380.01,777.51 L381.11,780.00 L381.16,780.10" fill="none" stroke="#000" stroke-width="1.3" stroke-linejoin="round" stroke-linecap="butt"/>
<path d="M384.52,787.52 L385.68,790.02 L386.84,792.52 L388.02,795.01 L389.21,797.51 L390.41,800.00 L391.63,802.51 L392.86,805.01 L394.10,807.52 L395.35,810.02 L396.61,812.52 L397.88,815.01 L399.16,817.51 L400.45,820.00 L401.75,822.51 L403.07,825.01 L404.40,827.52 L405.73,830.02 L407.08,832.52 L408.43,835.01 L409.80,837.51 L411.17,840.00 L412.56,842.51 L413.96,845.01 L415.37,847.52 L416.79,850.02 L418.21,852.52 L419.65,855.01 L421.09,857.51 L422.54,860.00 L424.01,862.51 L425.48,865.01 L426.97,867.52 L428.46,870.02 L429.96,872.51 L431.47,875.01 L432.99,877.51 L434.51,880.00 L436.05,882.51 L437.60,885.01 L439.16,887.51 L440.72,890.02 L442.29,892.51 L443.87,895.01 L445.46,897.51 L447.05,900.00 L448.65,902.51 L450.27,905.01 L451.89,907.51 L453.52,910.01 L455.16,912.51 L456.80,915.01 L458.45,917.51 L460.10,920.00 L461.77,922.51 L463.44,925.01 L465.13,927.51 L466.81,930.01 L468.51,932.51 L470.21,935.01 L471.91,937.51 L473.63,940.00 L475.35,942.51 L477.08,945.01 L478.82,947.51 L480.56,950.01 L482.31,952.51 L484.06,955.01 L485.82,957.51 L487.58,960.00 L489.36,962.50 L491.14,965.01 L492.93,967.51 L494.72,970.01 L496.51,972.51 L498.32,975.01 L500.12,977.50 L501.93,980.00 L503.79,982.55 L505.70,985.17 L507.63,987.81 L509.56,990.44 L511.46,993.01 L513.28,995.49 L515.02,997.83 L516.62,1000.00 L517.67,1001.42 L518.66,1002.74 L519.60,1004.00 L520.50,1005.22 L521.39,1006.40 L522.27,1007.58 L523.16,1008.77 L524.08,1010.00 L525.02,1011.24 L525.94,1012.48 L526.87,1013.71 L527.80,1014.95 L528.73,1016.19 L529.68,1017.44 L530.64,1018.71 L531.61,1020.00 L532.71,1021.45 L533.83,1022.92 L534.97,1024.42 L536.12,1025.93 L537.28,1027.45 L538.44,1028.97 L539.59,1030.49 L540.74,1032.00" fill="none" stroke="#000" stroke-width="1.3" stroke-linejoin="round" stroke-linecap="butt"/>
<path d="M543.30,1035.50 L548.60,1043.70" fill="none" stroke="#000" stroke-width="3.0" stroke-linejoin="round" stroke-linecap="butt"/>
<path d="M552.10,1046.60 L556.80,1054.20" fill="none" stroke="#000" stroke-width="3.0" stroke-linejoin="round" stroke-linecap="butt"/>
<text class="er" transform="translate(85.60 22.50)" font-size="21.20" text-anchor="end">6</text>
<text class="er" transform="translate(85.60 182.70)" font-size="21.20" text-anchor="end">4</text>
<text class="er" transform="translate(86.30 341.80)" font-size="21.20" text-anchor="end">2</text>
<text class="er" transform="translate(85.90 502.80)" font-size="21.20" text-anchor="end">0</text>
<text class="er" transform="translate(98.40 521.20)" font-size="21.20" text-anchor="middle">0</text>
<text class="er" transform="translate(261.00 521.40)" font-size="21.20" text-anchor="middle">10</text>
<text class="er" transform="translate(423.80 521.80)" font-size="21.20" text-anchor="middle">20</text>
<text class="er" transform="translate(586.00 521.50)" font-size="21.20" text-anchor="middle">30</text>
<text transform="translate(57.40 284.70) rotate(-90)" font-size="22.64" text-anchor="start">Γ</text>
<text transform="translate(56.90 272.00) rotate(-90) skewX(-24.34)" font-family="'DejaVu Sans', sans-serif" font-weight="200" font-size="26.18" text-anchor="start">/</text>
<text class="er" transform="translate(56.40 257.70) rotate(-90)" font-size="21.23" text-anchor="start">100</text>
<text transform="translate(308.80 549.00)" font-size="19.35" text-anchor="start">t</text>
<text transform="translate(316.90 556.90)" font-family="'Liberation Sans', 'DejaVu Sans', sans-serif" font-weight="bold" font-size="15.54" text-anchor="start">inj</text>
<text class="er" transform="translate(346.00 552.20)" font-size="22.88" text-anchor="start">[s]</text>
<text class="er" transform="translate(84.50 590.10)" font-size="21.20" text-anchor="end">1</text>
<text class="er" transform="translate(84.20 658.20)" font-size="21.20" text-anchor="end">0.1</text>
<text class="er" transform="translate(83.90 726.40)" font-size="21.20" text-anchor="end">0.01</text>
<text class="er" transform="translate(65.50 794.85)" font-size="21.20" text-anchor="end">10</text>
<text transform="translate(66.20 787.45)" font-weight="bold" font-size="10.80" text-anchor="start">−</text>
<text transform="translate(75.20 788.95)" font-weight="bold" font-size="12.20" text-anchor="start">3</text>
<text class="er" transform="translate(65.50 863.15)" font-size="21.20" text-anchor="end">10</text>
<text transform="translate(66.20 855.75)" font-weight="bold" font-size="10.80" text-anchor="start">−</text>
<text transform="translate(75.70 856.25)" font-weight="bold" font-size="12.20" text-anchor="start">4</text>
<text class="er" transform="translate(65.50 930.45)" font-size="21.20" text-anchor="end">10</text>
<text transform="translate(66.20 924.05)" font-weight="bold" font-size="10.80" text-anchor="start">−</text>
<text transform="translate(75.70 924.55)" font-weight="bold" font-size="12.20" text-anchor="start">5</text>
<text class="er" transform="translate(65.50 998.75)" font-size="21.20" text-anchor="end">10</text>
<text transform="translate(66.20 992.35)" font-weight="bold" font-size="10.80" text-anchor="start">−</text>
<text transform="translate(75.70 992.85)" font-weight="bold" font-size="12.20" text-anchor="start">6</text>
<text class="er" transform="translate(65.50 1067.05)" font-size="21.20" text-anchor="end">10</text>
<text transform="translate(66.20 1059.65)" font-weight="bold" font-size="10.80" text-anchor="start">−</text>
<text transform="translate(75.70 1061.15)" font-weight="bold" font-size="12.20" text-anchor="start">7</text>
<text class="er" transform="translate(96.60 1085.80)" font-size="21.20" text-anchor="middle">1</text>
<text class="er" transform="translate(255.40 1086.50)" font-size="21.20" text-anchor="middle">10</text>
<text class="er" transform="translate(409.00 1086.50)" font-size="21.20" text-anchor="middle">10</text>
<text transform="translate(422.40 1081.60)" font-weight="bold" font-size="12.20" text-anchor="start">2</text>
<text class="er" transform="translate(566.20 1086.50)" font-size="21.20" text-anchor="middle">10</text>
<text transform="translate(579.20 1081.60)" font-weight="bold" font-size="12.20" text-anchor="start">3</text>
<text transform="translate(265.50 1115.50)" font-size="19.77" text-anchor="start">t</text>
<text transform="translate(275.90 1122.00)" font-family="'Liberation Sans', 'DejaVu Sans', sans-serif" font-weight="bold" font-size="13.50" text-anchor="start">obs</text>
<text transform="translate(299.30 1119.00) skewX(-8.87)" font-family="'DejaVu Sans', sans-serif" font-weight="200" font-size="29.51" text-anchor="start">/</text>
<text class="er" transform="translate(314.80 1116.60)" font-size="21.70" text-anchor="start">(1+z)</text>
<text class="er" transform="translate(385.90 1116.60)" font-size="24.30" text-anchor="start">[s]</text>
<text transform="translate(24.10 880.10) rotate(-90) scale(1.261 1)" font-size="19.41" text-anchor="start">L</text>
<text transform="translate(32.60 868.00) rotate(-90)" font-family="'Liberation Sans', 'DejaVu Sans', sans-serif" font-weight="bold" font-size="14.96" text-anchor="start">bol</text>
<text class="er" transform="translate(24.50 835.40) rotate(-90)" font-size="23.09" text-anchor="start">[norm.]</text>
</svg>
</body></html>
